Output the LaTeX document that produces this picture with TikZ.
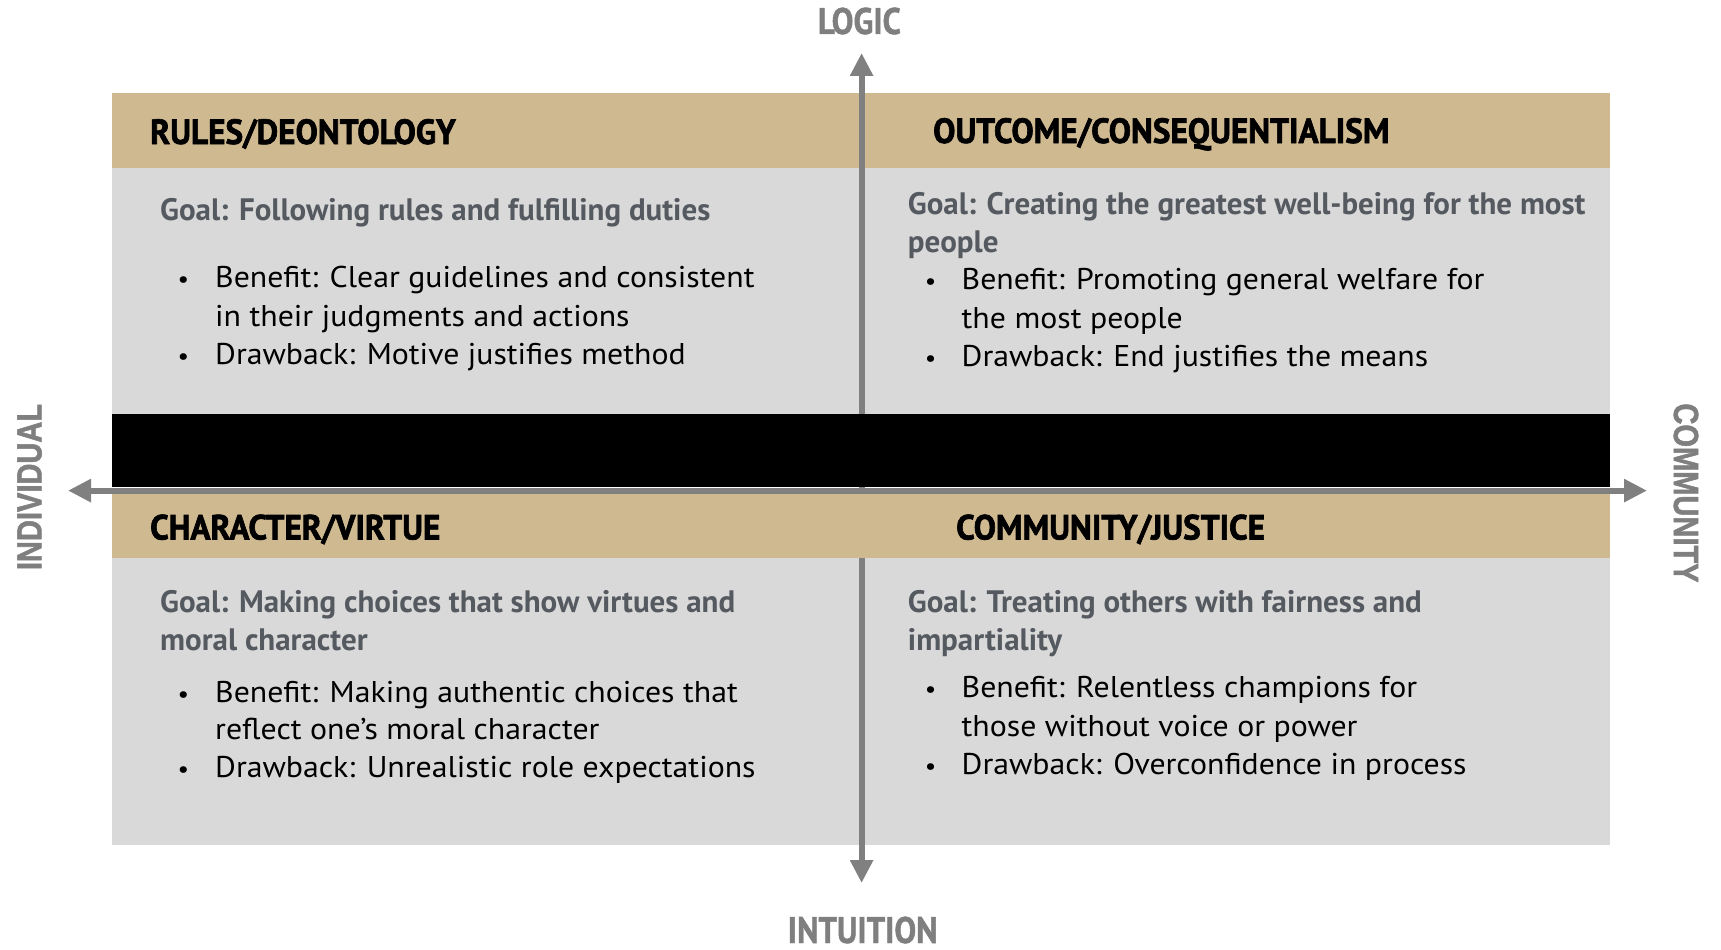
\documentclass[tikz,border=0pt]{standalone}
\usepackage{fontspec}
\usetikzlibrary{arrows.meta}
\setmainfont{PT Sans}
\newfontfamily\bodyfont[FakeStretch=1.06]{PT Sans}
\newfontfamily\goalfont[FakeStretch=1.0]{PT Sans Bold}
\newfontfamily\headfont[FakeStretch=0.95,FakeBold=1.8]{PT Sans Bold}
\newfontfamily\axfont[FakeStretch=0.88,FakeBold=1.2]{PT Sans Bold}
\newfontfamily\sidefont[FakeStretch=0.83,FakeBold=1.5]{Liberation Sans Bold}
\definecolor{oldgold}{HTML}{CFB991}
\definecolor{panelgray}{HTML}{D9D9D9}
\definecolor{axisgray}{HTML}{808080}
\definecolor{labelgray}{HTML}{7F7F7F}
\definecolor{steel}{HTML}{555960}
\tikzset{
  x=1pt, y=-1pt,
  band/.style={fill=oldgold, draw=none},
  panel/.style={fill=panelgray, draw=none},
  axis/.style={draw=axisgray, line width=6pt, -{Triangle[length=23pt,width=22pt]}},
  head/.style={anchor=base west, inner sep=0pt, font=\headfont\fontsize{35}{40}\selectfont, text=black},
  goal/.style={anchor=base west, inner sep=0pt, font=\goalfont\fontsize{31}{36}\selectfont, text=steel},
  item/.style={anchor=base west, inner sep=0pt, font=\bodyfont\fontsize{30}{34}\selectfont, text=black},
  dot/.style={anchor=base, inner sep=0pt, font=\bodyfont\fontsize{24}{34}\selectfont, text=black},
  axlabel/.style={anchor=base, inner sep=0pt, font=\axfont\fontsize{37}{42}\selectfont, text=labelgray},
  sidelabel/.style={inner sep=0pt, font=\sidefont\fontsize{35}{40}\selectfont, text=labelgray}
}
\begin{document}
\begin{tikzpicture}
\useasboundingbox (0,0) rectangle (1721,950);
% panels
\fill[band] (112,93.3) rectangle (1610,168);
\fill[panel] (112,168) rectangle (1610,414);
\fill[panel] (112,557.6) rectangle (1610,845);
% vertical axis
\coordinate (vtop) at (861.6,53);
\coordinate (vbot) at (861.6,883);
\draw[axis] (861.6,480) -- (vtop);
\draw[axis] (861.6,480) -- (vbot);
% black band and lower header band cover the axis
\fill[black] (112,413.8) rectangle (1610,487);
\fill[band] (112,494) rectangle (1610,557.6);
% horizontal axis
\coordinate (hmid) at (861.6,490.6);
\coordinate (hleft) at (68,490.6);
\coordinate (hright) at (1647,490.6);
\draw[axis] (hmid) -- (hleft);
\draw[axis] (hmid) -- (hright);
% axis labels
\node[axlabel] (logic) at (859.4,34) {LOGIC};
\node[axlabel] (intuition) at (862.7,943) {INTUITION};
\node[sidelabel, rotate=90] (individual) at (29.6,487) {INDIVIDUAL};
\node[sidelabel, rotate=-90] (community) at (1686,493) {COMMUNITY};
% Q1
\node[head] (h1) at (150,144) {RULES/DEONTOLOGY};
\node[goal] (g1) at (160,220) {Goal: Following rules and fulfilling duties};
\node[dot] (d1a) at (183.3,287) {\textbullet};
\node[item] (b1a) at (215,287) {Benefit: Clear guidelines and consistent};
\node[item] (b1b) at (215,326) {in their judgments and actions};
\node[dot] (d1b) at (183.3,364) {\textbullet};
\node[item] (b1c) at (215,364) {Drawback: Motive justifies method};
% Q2
\node[head] (h2) at (933,143) {OUTCOME/CONSEQUENTIALISM};
\node[goal] (g2a) at (907.7,214) {Goal: Creating the greatest well-being for the most};
\node[goal] (g2b) at (907.7,252) {people};
\node[dot] (d2a) at (930.7,289) {\textbullet};
\node[item] (b2a) at (961.5,289) {Benefit: Promoting general welfare for};
\node[item] (b2b) at (961.5,328) {the most people};
\node[dot] (d2b) at (930.7,366) {\textbullet};
\node[item] (b2c) at (961.5,366) {Drawback: End justifies the means};
% Q3
\node[head] (h3) at (150,539.5) {CHARACTER/VIRTUE};
\node[goal] (g3a) at (160,612) {Goal: Making choices that show virtues and};
\node[goal] (g3b) at (160,650) {moral character};
\node[dot] (d3a) at (183.3,702) {\textbullet};
\node[item] (b3a) at (215,702) {Benefit: Making authentic choices that};
\node[item] (b3b) at (215,739) {reflect one’s moral character};
\node[dot] (d3b) at (183.3,777) {\textbullet};
\node[item] (b3c) at (215,777) {Drawback: Unrealistic role expectations};
% Q4
\node[head] (h4) at (956,539.5) {COMMUNITY/JUSTICE};
\node[goal] (g4a) at (907.7,612) {Goal: Treating others with fairness and};
\node[goal] (g4b) at (907.7,650) {impartiality};
\node[dot] (d4a) at (930.7,697) {\textbullet};
\node[item] (b4a) at (961.5,697) {Benefit: Relentless champions for};
\node[item] (b4b) at (961.5,736) {those without voice or power};
\node[dot] (d4b) at (930.7,774) {\textbullet};
\node[item] (b4c) at (961.5,774) {Drawback: Overconfidence in process};
\end{tikzpicture}
\end{document}
